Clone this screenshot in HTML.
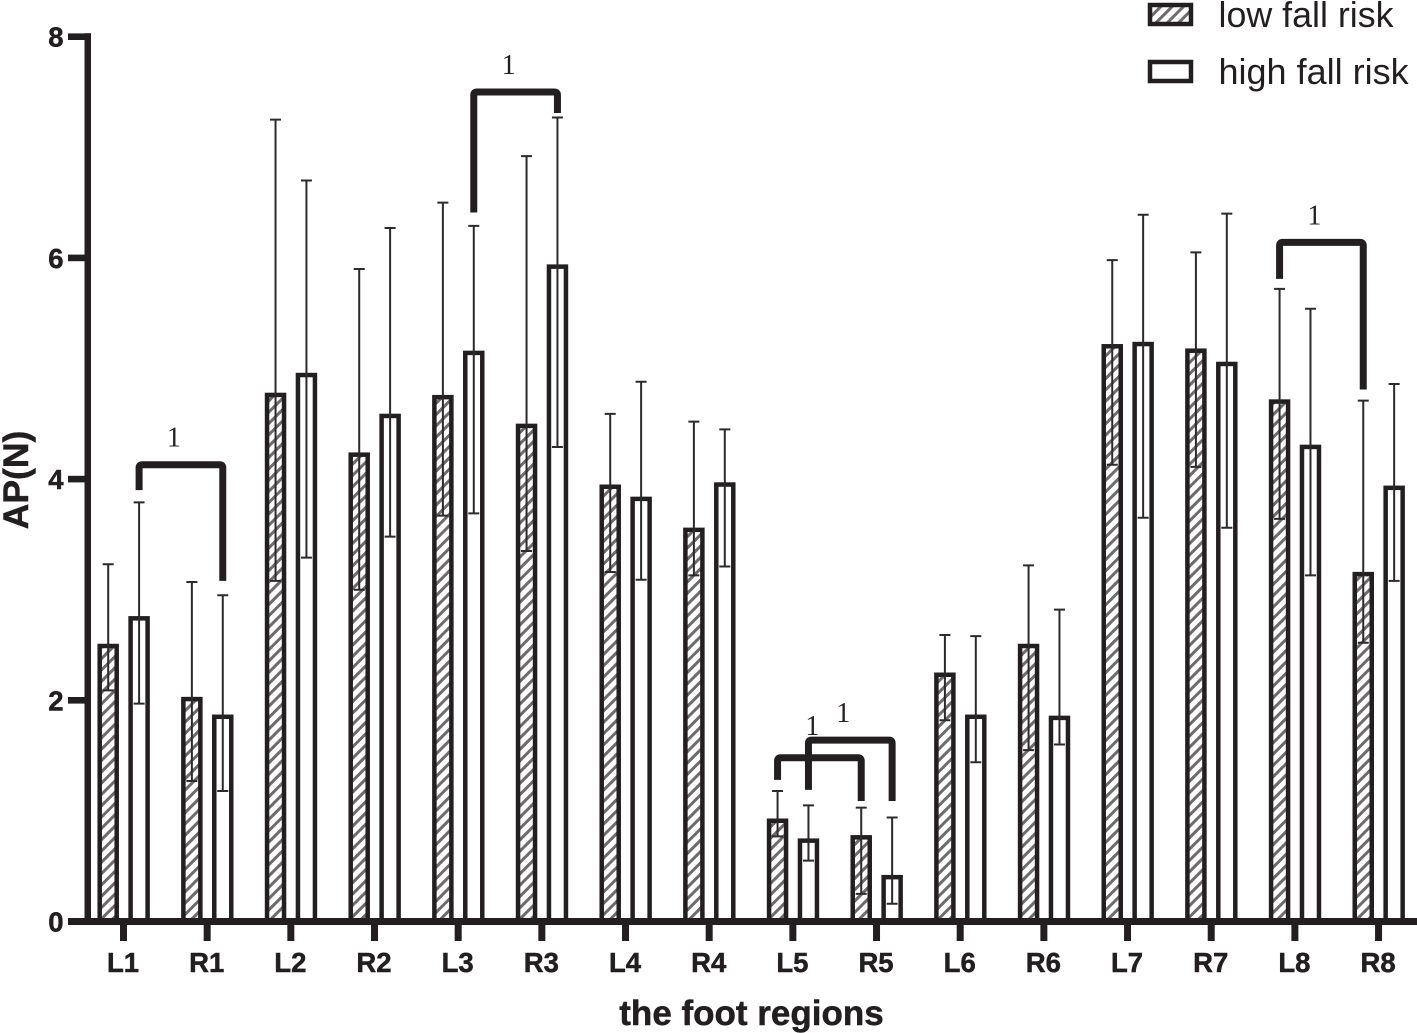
<!DOCTYPE html>
<html>
<head>
<meta charset="utf-8">
<style>
html,body{margin:0;padding:0;background:#fff;}
svg{display:block;}
text{fill:#231f20;}
.sans{font-family:"Liberation Sans",sans-serif;}
.heavy{stroke:#231f20;stroke-width:0.5px;}
.tick{font-family:"Liberation Sans",sans-serif;font-weight:bold;font-size:27.5px;stroke:#231f20;stroke-width:0.5px;}
.mark{font-family:"Liberation Serif",serif;font-size:28px;}
</style>
</head>
<body>
<svg id="chart" xmlns="http://www.w3.org/2000/svg" width="1417" height="1033" viewBox="0 0 1417 1033">
  <defs>
    <pattern id="hatch" patternUnits="userSpaceOnUse" width="8" height="8" patternTransform="rotate(45)">
      <rect width="8" height="8" fill="#fff"></rect>
      <rect x="0" y="0" width="3" height="8" fill="#6d6b6b"></rect>
    </pattern>
  </defs>
  <g id="bars"></g>
  <g id="errors"></g>
  <g id="axes"></g>
  <g id="brackets"></g>
  <g>
    <rect x="1150" y="5" width="41" height="19" fill="url(#hatch)" stroke="#231f20" stroke-width="4.5"></rect>
    <text class="sans" x="1218.5" y="27" font-size="35.8">low fall risk</text>
    <rect x="1150" y="62" width="41" height="19" fill="#fff" stroke="#231f20" stroke-width="4.5"></rect>
    <text class="sans" x="1218.5" y="84" font-size="36">high fall risk</text>
  </g>
  <text class="sans heavy" x="751.5" y="1025" font-size="35" font-weight="bold" text-anchor="middle">the foot regions</text>
  <text class="sans heavy" transform="translate(28,480) rotate(-90)" font-size="35.5" font-weight="bold" text-anchor="middle">AP(N)</text>
</svg>
<script>
var categories = ["L1","R1","L2","R2","L3","R3","L4","R4","L5","R5","L6","R6","L7","R7","L8","R8"];
var yTickLabels = [0,2,4,6,8];
var lowValues  = [2.50,2.02,4.77,4.23,4.75,4.49,3.94,3.55,0.92,0.77,2.24,2.50,5.21,5.17,4.71,3.15];
var lowUpper   = [3.23,3.07,7.25,5.90,6.50,6.92,4.59,4.52,1.18,1.03,2.59,3.22,5.98,6.05,5.72,4.71];
var lowLower   = [2.09,1.27,3.08,3.00,3.67,3.35,3.16,3.13,0.77,0.25,1.82,1.55,4.13,4.11,3.64,2.52];
var highValues = [2.75,1.86,4.95,4.58,5.15,5.93,3.83,3.96,0.74,0.41,1.86,1.85,5.23,5.05,4.30,3.93];
var highUpper  = [3.79,2.95,6.70,6.27,6.29,7.27,4.88,4.45,1.05,0.94,2.58,2.82,6.39,6.40,5.54,4.86];
var highLower  = [1.97,1.18,3.29,3.48,3.69,4.29,3.09,3.21,0.55,0.16,1.44,1.60,3.65,3.56,3.13,3.08];
/* brackets: from category/series to category/series, top level and end levels in axis units */
var bracketFromCat = ["L1","L3","L5","L5","L8"];
var bracketFromSeries = ["high","high","low","high","low"];
var bracketToCat = ["R1","R3","R5","R5","R8"];
var bracketToSeries = ["high","high","low","high","low"];
var bracketTop = [4.13,7.50,1.48,1.64,6.14];
var bracketFromEnd = [3.90,6.41,1.28,1.19,5.81];
var bracketToEnd = [3.08,7.31,1.09,1.09,4.81];
var bracketLabels = ["1","1","1","1","1"];

var NS = "http://www.w3.org/2000/svg";
var INK = "#231f20";
function y(v){ return 921.5 - v * 110.6; }
function x(i){ return 123.5 + i * 83.67; }
function seriesX(i, s){ return x(i) + (s === "low" ? -15.3 : 15.6); }
function el(tag, parent, attrs, txt){
  var e = document.createElementNS(NS, tag);
  for (var k in attrs) e.setAttribute(k, attrs[k]);
  if (txt !== undefined) e.textContent = txt;
  parent.appendChild(e);
  return e;
}
var barsG = document.getElementById("bars");
var errG = document.getElementById("errors");
var axesG = document.getElementById("axes");
var brG = document.getElementById("brackets");

function drawSeries(name, vals, up, lo, fill){
  categories.forEach(function(c, i){
    var cx = seriesX(i, name);
    var top = y(vals[i]) + 1;
    var bar = el("rect", barsG, {x: cx - 8.5, y: top, width: 17, height: y(0) - top, fill: fill, stroke: INK, "stroke-width": 4.5});
    
    
    var e = el("path", errG, {d: "M" + cx + " " + y(up[i]) + "V" + y(lo[i]) + "M" + (cx - 5.5) + " " + y(up[i]) + "H" + (cx + 5.5) + "M" + (cx - 5.5) + " " + y(lo[i]) + "H" + (cx + 5.5), fill: "none", stroke: "#2c2a2b", "stroke-width": 2});
    
    
  });
}
drawSeries("low", lowValues, lowUpper, lowLower, "url(#hatch)");
drawSeries("high", highValues, highUpper, highLower, "#fff");

var yAxisLine = el("rect", axesG, {x: 84.5, y: y(8) - 3.5, width: 6.5, height: y(0) - y(8) + 7, fill: INK});


var xAxisLine = el("rect", axesG, {x: 68, y: y(0) - 3.5, width: 1349, height: 7, fill: INK});



yTickLabels.forEach(function(t){
  var tm = el("rect", axesG, {x: 68, y: y(t) - 3.3, width: 18, height: 6.6, fill: INK});
  
  
  var tl = el("text", axesG, {x: 63.5, y: y(t) + 10, "text-anchor": "end", "class": "tick"}, String(t));
  
  
});
categories.forEach(function(c, i){
  var tm = el("rect", axesG, {x: x(i) - 3.5, y: y(0), width: 7, height: 19.5, fill: INK});
  
  
  var tl = el("text", axesG, {x: x(i) - 0.5, y: 972, "text-anchor": "middle", "class": "tick"}, c);
  
  
});

bracketLabels.forEach(function(lab, b){
  var x1 = seriesX(categories.indexOf(bracketFromCat[b]), bracketFromSeries[b]);
  var x2 = seriesX(categories.indexOf(bracketToCat[b]), bracketToSeries[b]);
  var yt = y(bracketTop[b]);
  var p = el("path", brG, {d: "M" + x1 + " " + y(bracketFromEnd[b]) + "V" + (yt + 3) + "Q" + x1 + " " + yt + " " + (x1 + 3) + " " + yt + "H" + (x2 - 3) + "Q" + x2 + " " + yt + " " + x2 + " " + (yt + 3) + "V" + y(bracketToEnd[b]), fill: "none", stroke: INK, "stroke-width": 7});
  
  
  var lowerLabel = (b === 2);
  var t = el("text", brG, {x: (x1 + x2) / 2 - (lowerLabel ? 7 : 7), y: yt - (lowerLabel ? 23 : 18), "text-anchor": "middle", "class": "mark"}, lab);
  
  
});
</script>
</body>
</html>
